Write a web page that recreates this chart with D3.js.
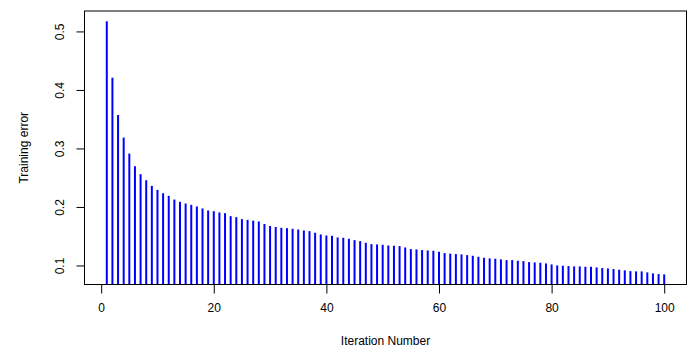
<!DOCTYPE html>
<html>
<head>
<meta charset="utf-8">
<script src="https://cdn.jsdelivr.net/npm/d3@7"></script>
<style>
  body { margin: 0; background: #fff; }
  text { font-family: "Liberation Sans", Arial, sans-serif; }
</style>
</head>
<body>
<div id="chart"></div>
<script>
// Training error per iteration
const iterations = d3.range(1, 101);
const trainingError = [
  0.5176, 0.4209, 0.3572, 0.3185, 0.2912, 0.2696, 0.2560, 0.2457, 0.2361, 0.2292,
  0.2235, 0.2190, 0.2127, 0.2088, 0.2059, 0.2036, 0.2008, 0.1974, 0.1940, 0.1928,
  0.1906, 0.1894, 0.1843, 0.1826, 0.1792, 0.1780, 0.1766, 0.1752, 0.1709, 0.1675,
  0.1658, 0.1644, 0.1638, 0.1627, 0.1615, 0.1598, 0.1587, 0.1559, 0.1530, 0.1513,
  0.1507, 0.1479, 0.1473, 0.1456, 0.1433, 0.1416, 0.1388, 0.1365, 0.1360, 0.1354,
  0.1342, 0.1337, 0.1331, 0.1308, 0.1280, 0.1274, 0.1263, 0.1257, 0.1251, 0.1234,
  0.1212, 0.1203, 0.1195, 0.1189, 0.1177, 0.1166, 0.1149, 0.1132, 0.1121, 0.1115,
  0.1104, 0.1092, 0.1092, 0.1081, 0.1075, 0.1058, 0.1052, 0.1047, 0.1035, 0.1018,
  0.1001, 0.0996, 0.0990, 0.0984, 0.0984, 0.0978, 0.0978, 0.0967, 0.0956, 0.0950,
  0.0939, 0.0927, 0.0916, 0.0904, 0.0899, 0.0899, 0.0882, 0.0865, 0.0853, 0.0848
];
const xTicks = [0, 20, 40, 60, 80, 100];
const yTicks = [0.1, 0.2, 0.3, 0.4, 0.5];

const w = 687;
const h = 354;
const box = { left: 84.5, top: 11, right: 686.5, bottom: 284.5 };

const svg = d3.select("#chart").append("svg")
    .attr("width", w)
    .attr("height", h);

// R style 4% padding on the data range
const pad = ([a, b]) => [a - 0.04 * (b - a), b + 0.04 * (b - a)];
const x = d3.scaleLinear()
    .domain(pad(d3.extent(iterations)))
    .range([box.left, box.right]);
const y = d3.scaleLinear()
    .domain(pad(d3.extent(trainingError)))
    .range([box.bottom, box.top]);

// vertical lines (type = "h")
svg.append("g")
    .attr("stroke", "#0000ff")
    .attr("stroke-width", 2)
    .selectAll("line")
    .data(trainingError)
    .join("line")
    .attr("x1", (d, i) => x(iterations[i]))
    .attr("x2", (d, i) => x(iterations[i]))
    .attr("y1", y.range()[0])
    .attr("y2", d => y(d));

// x axis
const xAxis = svg.append("g")
    .attr("transform", `translate(0,${box.bottom})`)
    .call(d3.axisBottom(x).tickValues(xTicks).tickSize(9).tickPadding(10).tickSizeOuter(0));
xAxis.select(".domain")
    .attr("d", `M${x(xTicks[0])},0H${x(xTicks[xTicks.length - 1])}`);
xAxis.selectAll("text").attr("font-size", 12).attr("fill", "#000");

// y axis, labels turned like R's las = 0
const yAxis = svg.append("g")
    .attr("transform", `translate(${box.left},0)`)
    .call(d3.axisLeft(y).tickValues(yTicks).tickSize(8).tickFormat(d3.format(".1f")));
yAxis.select(".domain")
    .attr("d", `M0,${y(yTicks[0])}V${y(yTicks[yTicks.length - 1])}`);
yAxis.selectAll("text")
    .attr("font-size", 12)
    .attr("fill", "#000")
    .attr("text-anchor", "middle")
    .attr("dy", 0)
    .attr("x", 0)
    .attr("y", 0)
    .attr("transform", "translate(-21,0) rotate(-90)");

svg.selectAll(".tick line, .domain").attr("stroke", "#000");

// plot box
svg.append("rect")
    .attr("x", box.left)
    .attr("y", box.top)
    .attr("width", box.right - box.left)
    .attr("height", box.bottom - box.top)
    .attr("fill", "none")
    .attr("stroke", "#000");

// axis titles
svg.append("text")
    .attr("x", (box.left + box.right) / 2)
    .attr("y", 345)
    .attr("text-anchor", "middle")
    .attr("font-size", 12)
    .text("Iteration Number");

svg.append("text")
    .attr("transform", `translate(28,${(box.top + box.bottom) / 2}) rotate(-90)`)
    .attr("text-anchor", "middle")
    .attr("font-size", 12)
    .text("Training error");
</script>
</body>
</html>
